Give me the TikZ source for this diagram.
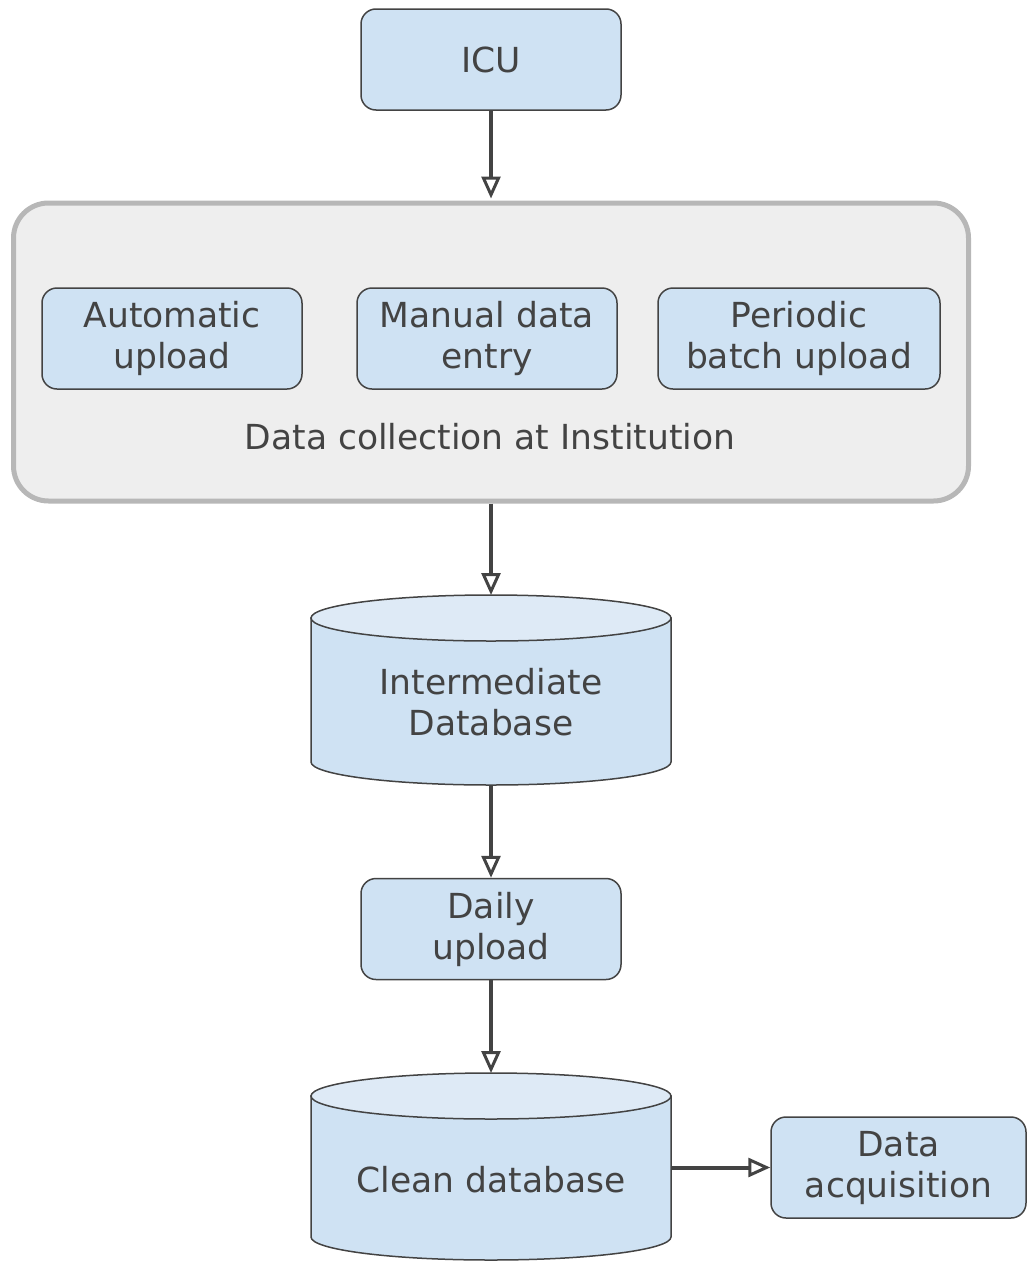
\documentclass[tikz,border=0pt]{standalone}
\usepackage{fontspec}
\setmainfont{DejaVu Sans}
\usetikzlibrary{arrows.meta}
\definecolor{boxfill}{HTML}{CFE2F3}
\definecolor{capfill}{HTML}{DEEAF6}
\definecolor{ink}{HTML}{434343}
\definecolor{panelfill}{HTML}{EEEEEE}
\definecolor{panelline}{HTML}{B7B7B7}
\begin{document}
\begin{tikzpicture}[x=1pt,y=-1pt,
  label text/.style={text=ink, align=center, font=\fontsize{34.5}{41}\selectfont, inner sep=0pt},
  stepbox/.style={label text, draw=ink, fill=boxfill, rounded corners=15pt, line width=1.5pt,
    minimum width=260pt, minimum height=101pt},
  panel/.style={draw=panelline, fill=panelfill, rounded corners=35pt, line width=5pt,
    minimum width=955pt, minimum height=298pt, inner sep=0pt},
  dbline/.style={draw=ink, line width=1.5pt},
  flow/.style={draw=ink, line width=4pt,
    -{Triangle[fill=white, length=22pt, width=19pt, line width=3pt]}}]
\useasboundingbox (0,0) rectangle (1027,1261);

% source
\node[stepbox] (icu) at (491,59.5) {ICU};

% institution panel with its three collection paths
\node[panel] (inst) at (491,352) {};
\node[stepbox] (auto) at (172,338.5) {Automatic\\upload};
\node[stepbox] (manual) at (487,338.5) {Manual data\\entry};
\node[stepbox, minimum width=282pt] (batch) at (799,338.5) {Periodic\\batch upload};
\node[label text] (instlabel) at (490,437) {Data collection at Institution};

% intermediate database cylinder
\path[dbline, fill=boxfill] (311,618) -- (311,762)
  arc[start angle=180, end angle=360, x radius=180pt, y radius=23pt] -- (671,618) -- cycle;
\path[dbline, fill=capfill] (491,618) ellipse [x radius=180pt, y radius=23pt];
\node[label text] (idb) at (491,702) {Intermediate\\Database};
\coordinate (idbtop) at (491,595);
\coordinate (idbbot) at (491,785);

% daily upload step
\node[stepbox] (daily) at (491,929) {Daily\\upload};

% clean database cylinder
\path[dbline, fill=boxfill] (311,1096) -- (311,1237)
  arc[start angle=180, end angle=360, x radius=180pt, y radius=23pt] -- (671,1096) -- cycle;
\path[dbline, fill=capfill] (491,1096) ellipse [x radius=180pt, y radius=23pt];
\node[label text] (cdb) at (491,1180) {Clean database};
\coordinate (cdbtop) at (491,1073);
\coordinate (cdbright) at (671,1167.5);

% output
\node[stepbox, minimum width=255pt] (acq) at (898.5,1167.5) {Data\\acquisition};

% connectors
\draw[flow, shorten >=2pt] (icu.south) -- (inst.north);
\draw[flow] (inst.south) -- (idbtop);
\draw[flow] (idbbot) -- (daily.north);
\draw[flow] (daily.south) -- (cdbtop);
\draw[flow] (cdbright) -- (acq.west);
\end{tikzpicture}
\end{document}
